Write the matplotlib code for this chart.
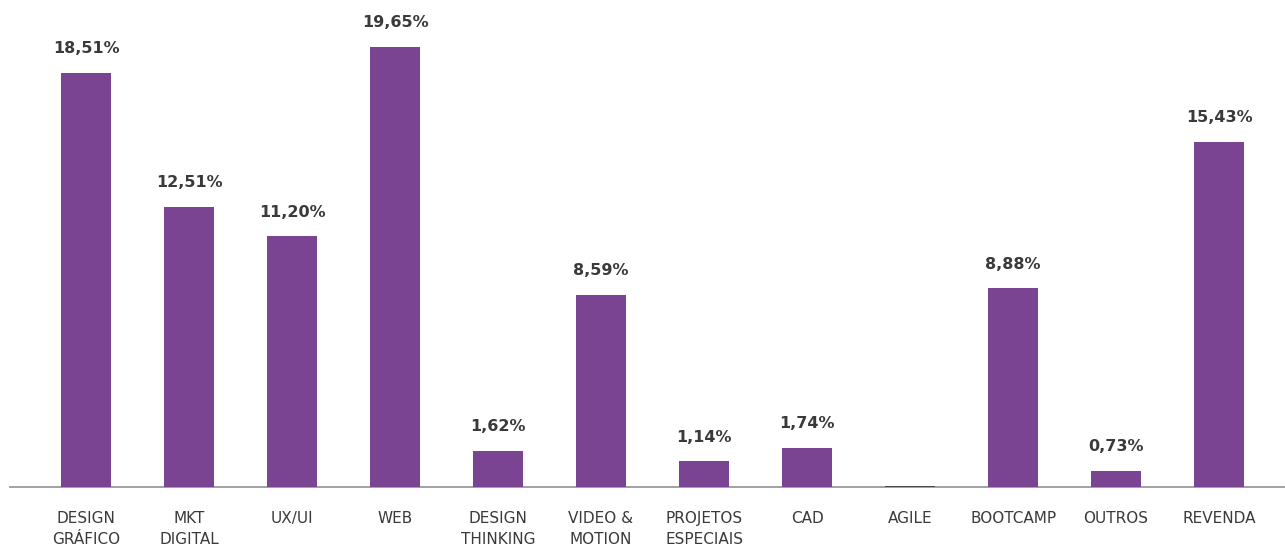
import matplotlib
matplotlib.use("Agg")
import matplotlib.pyplot as plt

categories = ["DESIGN\nGRÁFICO", "MKT\nDIGITAL", "UX/UI", "WEB", "DESIGN\nTHINKING",
              "VIDEO &\nMOTION", "PROJETOS\nESPECIAIS", "CAD", "AGILE", "BOOTCAMP",
              "OUTROS", "REVENDA"]
values = [18.51, 12.51, 11.20, 19.65, 1.62, 8.59, 1.14, 1.74, 0.0, 8.88, 0.73, 15.43]

PURPLE = "#7A4493"
TEXT = "#3a3a3a"

plt.rcParams.update({"font.family": "DejaVu Sans"})

fig = plt.figure(figsize=(12.85, 5.49), dpi=100, facecolor="white")
ax = fig.add_axes([0.0078, 0.1129, 0.9922, 0.8871])

x = list(range(len(values)))
bars = ax.bar(x, values, width=0.485, color=PURPLE, zorder=3)
for b, v in zip(bars, values):
    if v <= 0:
        # near-zero share: only a dark stroke on the baseline
        b.set_edgecolor("#3a3a3a")
        b.set_linewidth(1.2)
        continue
    ax.annotate(f"{v:.2f}%".replace(".", ","), (b.get_x() + b.get_width() / 2, v),
                xytext=(0, 12), textcoords="offset points", ha="center", va="bottom",
                fontsize=11.5, fontweight="bold", color=TEXT)

ax.set_xlim(-0.738, 11.64)
ax.set_ylim(0, 21.75)
ax.set_xticks(x)
ax.set_xticklabels(categories, fontsize=11, color=TEXT, linespacing=1.5)
ax.tick_params(axis="x", length=0, pad=17)
ax.set_yticks([])
for s in ("top", "right", "left"):
    ax.spines[s].set_visible(False)
ax.spines["bottom"].set_color("#9a9a9a")
ax.spines["bottom"].set_linewidth(1.3)

fig.savefig("out.png", dpi=100, facecolor="white")
